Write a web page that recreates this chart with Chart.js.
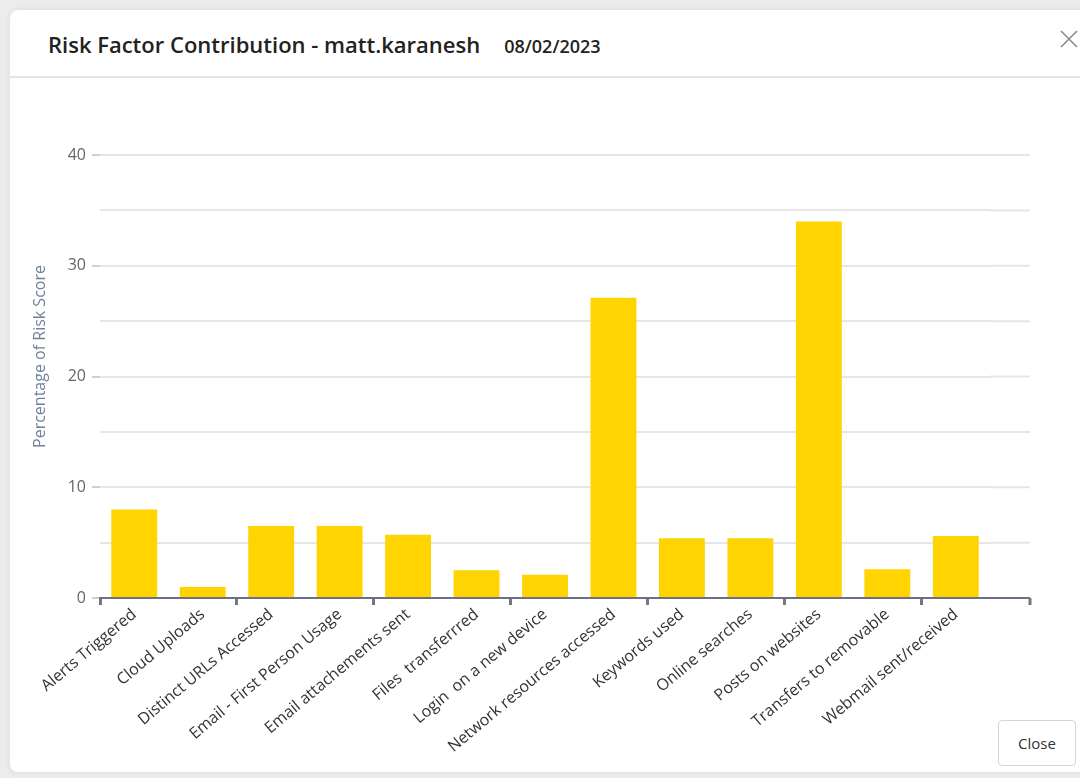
<!DOCTYPE html>
<html>
<head>
<meta charset="utf-8">
<script src="https://cdn.jsdelivr.net/npm/chart.js@4.4.0/dist/chart.umd.min.js"></script>
<style>
    body {
        margin: 0;
        width: 1080px;
        height: 778px;
        background: #ececec;
        overflow: hidden;
        font-family: 'Open Sans', sans-serif;
    }
    .modal {
        position: absolute;
        left: 10px;
        top: 10px;
        width: 1100px;
        height: 762px;
        background: #fff;
        border-radius: 8px;
        box-shadow: 0 0 6px rgba(0, 0, 0, 0.08);
    }
    .modal-header {
        height: 66px;
        border-bottom: 2px solid #e3e3e3;
        position: relative;
    }
    .modal-title {
        position: absolute;
        left: 38px;
        top: 19px;
        font-size: 22px;
        line-height: 30px;
        font-weight: 600;
        color: #222;
        white-space: nowrap;
    }
    .modal-title .date {
        font-size: 18px;
        margin-left: 24px;
    }
    .close-x {
        position: absolute;
        left: 1050px;
        top: 20px;
    }
    .close-btn {
        position: absolute;
        left: 988px;
        top: 710px;
        width: 76px;
        height: 44px;
        border: 1px solid #d4d4d4;
        border-radius: 4px;
        background: #fff;
        font-family: 'Open Sans', sans-serif;
        font-size: 15px;
        color: #333;
        line-height: 44px;
        text-align: center;
    }
    .chart-box {
        position: absolute;
        left: 10px;
        top: 100px;
        width: 1050px;
        height: 678px;
    }
</style>
</head>
<body>
<div class="modal">
    <div class="modal-header">
        <div class="modal-title">Risk Factor Contribution - matt.karanesh<span class="date">08/02/2023</span></div>
        <svg class="close-x" width="18" height="18" viewBox="0 0 18 18">
            <path d="M1 1 L17 17 M17 1 L1 17" stroke="#8a8a8a" stroke-width="1.6"/>
        </svg>
    </div>
    <div class="close-btn">Close</div>
</div>
<div class="chart-box"><canvas id="riskChart"></canvas></div>

<script>
const factors = [
    'Alerts Triggered', 'Cloud Uploads', 'Distinct URLs Accessed', 'Email - First Person Usage',
    'Email attachements sent', 'Files  transferrred', 'Login  on a new device',
    'Network resources accessed', 'Keywords used', 'Online searches', 'Posts on websites',
    'Transfers to removable', 'Webmail sent/received'
];
const riskPercent = [8.0, 1.0, 6.5, 6.5, 5.7, 2.5, 2.1, 27.1, 5.4, 5.4, 34.0, 2.6, 5.6];
const yTicks = [0, 10, 20, 30, 40];
const yTitle = 'Percentage of Risk Score';

// the axis and grid in the original run a bit past the last bar,
// and the y title sits a little above the middle of the plot
const extendAxis = {
    id: 'extendAxis',
    beforeDatasetsDraw: function (chart) {
        const ctx = chart.ctx;
        const area = chart.chartArea;
        const y = chart.scales.y;
        ctx.save();
        ctx.strokeStyle = '#e6e6e6';
        ctx.lineWidth = 2;
        y.ticks.forEach(function (t) {
            const py = y.getPixelForValue(t.value);
            ctx.beginPath();
            ctx.moveTo(area.right, py);
            ctx.lineTo(area.right + 40, py);
            ctx.stroke();
        });
        ctx.translate(y.left + 30, (area.top + area.bottom) / 2 - 20);
        ctx.rotate(-Math.PI / 2);
        ctx.fillStyle = '#6f8299';
        ctx.font = '16px "Open Sans"';
        ctx.textAlign = 'center';
        ctx.textBaseline = 'middle';
        ctx.fillText(yTitle, 0, 0);
        ctx.restore();
    },
    afterDraw: function (chart) {
        const ctx = chart.ctx;
        const area = chart.chartArea;
        ctx.save();
        ctx.strokeStyle = '#6c6f85';
        ctx.lineWidth = 2;
        ctx.beginPath();
        ctx.moveTo(area.right - 1, area.bottom);
        ctx.lineTo(area.right + 40, area.bottom);
        ctx.stroke();
        ctx.strokeStyle = '#777';
        ctx.lineWidth = 3;
        ctx.beginPath();
        ctx.moveTo(area.right + 40, area.bottom);
        ctx.lineTo(area.right + 40, area.bottom + 7);
        ctx.stroke();
        ctx.restore();
    }
};

const ctx1 = document.getElementById('riskChart').getContext('2d');
const riskChart = new Chart(ctx1, {
    type: 'bar',
    data: {
        labels: factors,
        datasets: [{
            label: yTitle,
            data: riskPercent,
            backgroundColor: '#ffd400',
            borderWidth: 0,
            categoryPercentage: 1,
            barPercentage: 0.67
        }]
    },
    plugins: [extendAxis],
    options: {
        responsive: true,
        maintainAspectRatio: false,
        animation: false,
        layout: {
            padding: { left: 0, top: 55, right: 70, bottom: 0 }
        },
        plugins: {
            legend: { display: false },
            tooltip: { enabled: false }
        },
        scales: {
            x: {
                offset: true,
                border: { color: '#6c6f85', width: 2 },
                grid: {
                    offset: true,
                    drawOnChartArea: false,
                    tickLength: 7,
                    lineWidth: 3,
                    tickColor: function (c) {
                        return (c.index !== undefined && c.index % 2 === 0) ? '#777' : 'transparent';
                    }
                },
                ticks: {
                    autoSkip: false,
                    maxRotation: 40,
                    minRotation: 40,
                    padding: 0,
                    color: '#333',
                    font: { family: 'Open Sans', size: 16 }
                },
                afterFit: function (s) { s.height = 180; }
            },
            y: {
                min: 0,
                max: 40,
                border: { display: false },
                grid: {
                    color: '#e6e6e6',
                    lineWidth: 2,
                    tickLength: 8,
                    tickColor: function (c) {
                        return (c.tick && yTicks.includes(c.tick.value)) ? '#d0d0d0' : 'transparent';
                    }
                },
                ticks: {
                    stepSize: 5,
                    padding: 6,
                    color: '#666',
                    font: { family: 'Open Sans', size: 16 },
                    callback: function (v) { return yTicks.includes(v) ? v : ''; }
                },
                afterFit: function (s) { s.width = 90; }
            }
        }
    }
});
</script>
</body>
</html>
